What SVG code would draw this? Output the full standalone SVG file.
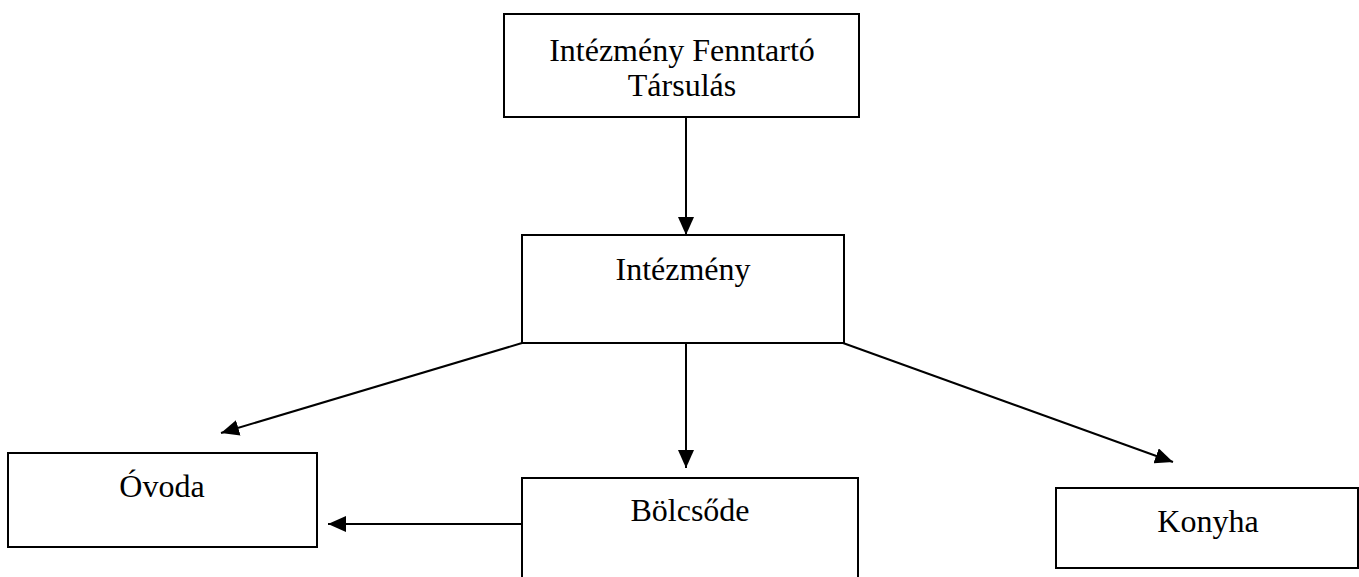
<svg xmlns="http://www.w3.org/2000/svg" width="1359" height="577" viewBox="0 0 1359 577">
<style>
.box{fill:#fff;stroke:#000;stroke-width:2}
.lbl{font-family:"Liberation Serif","Times New Roman",serif;font-size:32px;fill:#000;text-anchor:middle}
.con{stroke:#000;stroke-width:2;fill:none;marker-end:url(#ah)}
</style>
<defs>
<marker id="ah" markerUnits="userSpaceOnUse" markerWidth="18" markerHeight="16" viewBox="0 0 18 16" refX="18" refY="8" orient="auto">
<path d="M0,0 L18,8 L0,16 Z" fill="#000"/>
</marker>
</defs>
<rect width="1359" height="577" fill="#fff"/>
<g id="connectors">
<line class="con" x1="686" y1="117" x2="686" y2="235"/>
<line class="con" x1="522" y1="343" x2="221" y2="433"/>
<line class="con" x1="686" y1="343" x2="686" y2="468"/>
<line class="con" x1="843" y1="343" x2="1173" y2="462"/>
<line class="con" x1="522" y1="524" x2="328" y2="524"/>
</g>
<g id="node-fenntarto">
<rect class="box" x="504" y="14" width="355" height="103"/>
<text class="lbl" x="682" y="61">Intézmény Fenntartó</text>
<text class="lbl" x="682" y="96">Társulás</text>
</g>
<g id="node-intezmeny">
<rect class="box" x="522" y="235" width="322" height="108"/>
<text class="lbl" x="683" y="280">Intézmény</text>
</g>
<g id="node-ovoda">
<rect class="box" x="8" y="453" width="309" height="94"/>
<text class="lbl" x="162" y="497">Óvoda</text>
</g>
<g id="node-bolcsode">
<rect class="box" x="522" y="478" width="336" height="110"/>
<text class="lbl" x="690" y="521">Bölcsőde</text>
</g>
<g id="node-konyha">
<rect class="box" x="1056" y="488" width="302" height="80"/>
<text class="lbl" x="1208" y="532">Konyha</text>
</g>
</svg>
